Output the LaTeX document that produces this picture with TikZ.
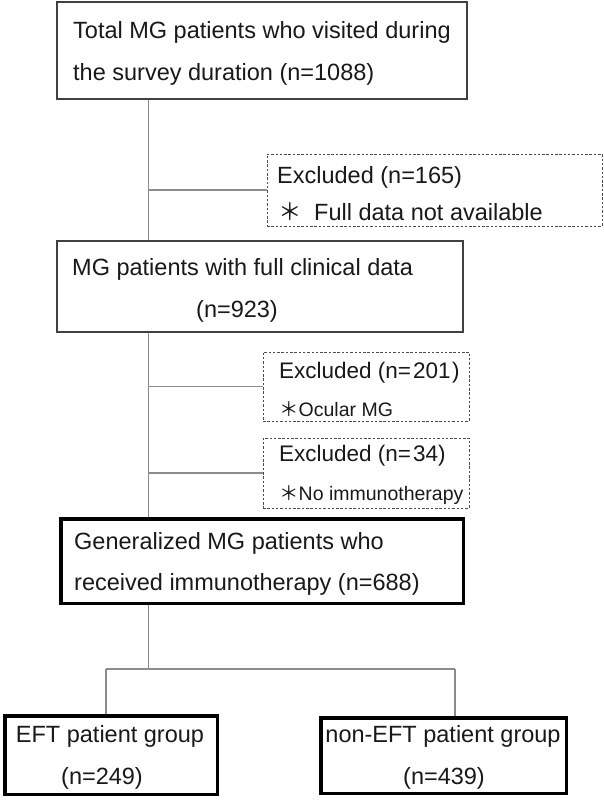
\documentclass[tikz,border=0pt]{standalone}
\usepackage{fontspec}
\setmainfont{Liberation Sans}
\newfontfamily\cjk{Noto Sans CJK JP}
\begin{document}
\begin{tikzpicture}[x=1pt,y=-1pt,
  thinbox/.style={draw=black!75,line width=1.3pt,rectangle,inner sep=0pt},
  thickbox/.style={draw=black,line width=3.5pt,rectangle,inner sep=0pt},
  exbox/.style={draw=black!70,line width=0.9pt,dash pattern=on 2.5pt off 1.8pt,rectangle,inner sep=0pt},
  conn/.style={draw=black!45,line width=1.3pt},
  big/.style={inner sep=0pt,font=\fontsize{23.5}{28}\selectfont,text=black!90},
  mid/.style={inner sep=0pt,font=\fontsize{22.5}{27}\selectfont,text=black!90},
  small/.style={inner sep=0pt,font=\fontsize{19.5}{24}\selectfont,text=black!90}]
\useasboundingbox[fill=white] (0,0) rectangle (604,800);
% boxes
\node[thinbox,minimum width=410pt,minimum height=97pt] (b1) at (262,50.5) {};
\node[thinbox,minimum width=406pt,minimum height=91pt] (b2) at (260,286.5) {};
\node[thickbox,minimum width=402.5pt,minimum height=84.5pt] (b3) at (262,561) {};
\node[thickbox,minimum width=212.5pt,minimum height=78.5pt] (g1) at (111,755) {};
\node[thickbox,minimum width=245.5pt,minimum height=75.5pt] (g2) at (443.5,755.5) {};
\node[exbox,minimum width=335pt,minimum height=72pt] (e1) at (434.5,190) {};
\node[exbox,minimum width=206pt,minimum height=69pt] (e2) at (366,386.5) {};
\node[exbox,minimum width=206pt,minimum height=70pt] (e3) at (366,473) {};
% texts
\node[big,anchor=base west] (t1a) at (73,39) {Total MG patients who visited during};
\node[big,anchor=base west] (t1b) at (73,81) {the survey duration (n=1088)};
\node[big,anchor=base west] (t2a) at (72,275) {MG patients with full clinical data};
\node[big,anchor=base] (t2b) at (237,317) {(n=923)};
\node[big,anchor=base west] (t3a) at (74,549) {Generalized MG patients who};
\node[big,anchor=base west] (t3b) at (74,590) {received immunotherapy (n=688)};
\node[big,anchor=base] (g1a) at (110,742) {EFT patient group};
\node[big,anchor=base] (g1b) at (102,784) {(n=249)};
\node[big,anchor=base] (g2a) at (443,742) {non-EFT patient group};
\node[big,anchor=base] (g2b) at (444,784) {(n=439)};
\node[big,anchor=base west] (e1a) at (277,183) {Excluded (n=165)};
\node[big,anchor=base west] (e1s) at (278,220) {\cjk ＊};
\node[big,anchor=base west] (e1b) at (314,220) {Full data not available};
\node[mid,anchor=base west] (e2a) at (279,378) {Excluded (n=\kern2pt 201\kern1.5pt)};
\node[small,anchor=base west] (e2b) at (279,416) {{\cjk ＊}Ocular MG};
\node[mid,anchor=base west] (e3a) at (279,461) {Excluded (n=\kern2pt 34)};
\node[small,anchor=base west] (e3b) at (279,500) {{\cjk ＊}No immunotherapy};
% connectors
\coordinate (sp) at (148.5,0);
\coordinate (sl) at (106,669);
\coordinate (sr) at (455,669);
\draw[conn] (b1.south -| sp) -- (b2.north -| sp);
\draw[conn] (b2.south -| sp) -- (b3.north -| sp);
\draw[conn] (e1.west -| sp) -- (e1.west);
\draw[conn] (e2.west -| sp) -- (e2.west);
\draw[conn] (e3.west -| sp) -- (e3.west);
\draw[conn] (b3.south -| sp) -- (sp |- sl);
\draw[conn] (sl) -- (sr);
\draw[conn] (sl) -- (sl |- g1.north);
\draw[conn] (sr) -- (sr |- g2.north);
\end{tikzpicture}
\end{document}
